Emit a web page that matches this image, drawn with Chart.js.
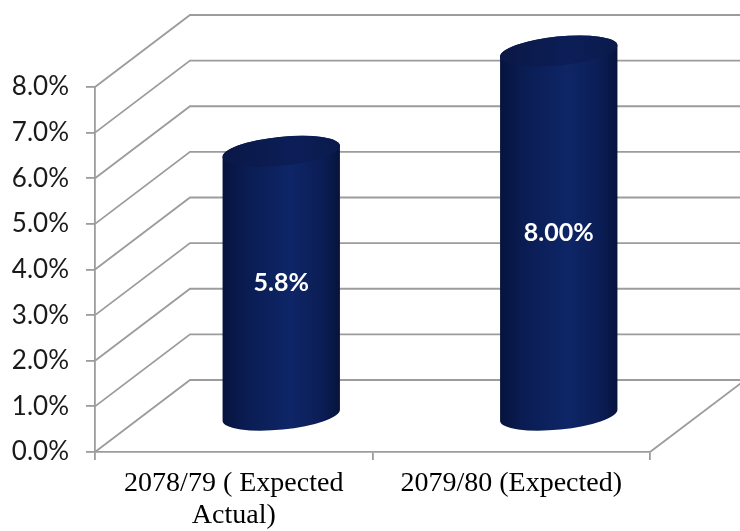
<!DOCTYPE html>
<html>
<head>
<meta charset="utf-8">
<script src="https://cdn.jsdelivr.net/npm/chart.js@4.4.1/dist/chart.umd.min.js"></script>
<style>
  html, body { margin: 0; padding: 0; background: #fff; }
  #wrap { width: 740px; height: 531px; }
</style>
</head>
<body>
<div id="wrap"><canvas id="growthChart" width="740" height="531"></canvas></div>
<script>
// Growth rates per fiscal year
const categories = [['2078/79 ( Expected', 'Actual)'], '2079/80 (Expected)'];
const growthRates = [5.8, 8.00];
const labelDecimals = [1, 2];
const yTicks = { min: 0, max: 8, step: 1 };

// depth of the 3D box (back wall offset from the front axis)
const DEPTH_X = 95;
const DEPTH_Y = -72;
const GRID_COLOR = '#9c9c9c';

// back wall + side diagonals, drawn under the cylinders
const box3d = {
    id: 'box3d',
    beforeDatasetsDraw(chart) {
        const { ctx, chartArea, scales } = chart;
        const y = scales.y;
        ctx.save();
        ctx.strokeStyle = GRID_COLOR;
        ctx.lineWidth = 1.8;
        y.ticks.forEach(t => {
            const py = y.getPixelForValue(t.value);
            ctx.beginPath();
            ctx.moveTo(chartArea.left, py);
            ctx.lineTo(chartArea.left + DEPTH_X, py + DEPTH_Y);
            ctx.lineTo(chart.width + 10, py + DEPTH_Y);
            ctx.stroke();
        });
        // right edge of the floor
        const py0 = y.getPixelForValue(0);
        ctx.beginPath();
        ctx.moveTo(chartArea.right, py0);
        ctx.lineTo(chartArea.right + DEPTH_X, py0 + DEPTH_Y);
        ctx.stroke();
        ctx.restore();
    }
};

function drawCylinder(ctx, cx, yTop, yBot, rx, ry, rot) {
    const ex = rx * Math.cos(rot), ey = rx * Math.sin(rot);

    const body = ctx.createLinearGradient(cx - rx, 0, cx + rx, 0);
    body.addColorStop(0, '#06133d');
    body.addColorStop(0.2, '#0a1c52');
    body.addColorStop(0.58, '#0e2667');
    body.addColorStop(0.85, '#0b1d55');
    body.addColorStop(1, '#06133b');

    ctx.beginPath();
    ctx.moveTo(cx - ex, yTop - ey);
    ctx.lineTo(cx - ex, yBot - ey);
    ctx.ellipse(cx, yBot, rx, ry, rot, Math.PI, 0, true);
    ctx.lineTo(cx + ex, yTop + ey);
    ctx.ellipse(cx, yTop, rx, ry, rot, 0, Math.PI, true);
    ctx.closePath();
    ctx.fillStyle = body;
    ctx.fill();

    const top = ctx.createLinearGradient(cx - rx, 0, cx + rx, 0);
    top.addColorStop(0, '#0a1846');
    top.addColorStop(0.6, '#0c1e57');
    top.addColorStop(1, '#0a1a4c');
    ctx.beginPath();
    ctx.ellipse(cx, yTop, rx, ry, rot, 0, Math.PI * 2);
    ctx.fillStyle = top;
    ctx.fill();
}

// cylinders sit half way into the box depth
const cylinders = {
    id: 'cylinders',
    afterDatasetsDraw(chart) {
        const { ctx } = chart;
        const meta = chart.getDatasetMeta(0);
        ctx.save();
        meta.data.forEach((bar, i) => {
            const cx = bar.x + DEPTH_X / 2;
            const yTop = bar.y + DEPTH_Y / 2;
            const yBot = bar.base + DEPTH_Y / 2;
            drawCylinder(ctx, cx, yTop, yBot, bar.width / 2, 14.5, -0.1);

            const txt = growthRates[i].toFixed(labelDecimals[i]) + '%';
            ctx.font = 'bold 25px Lato';
            ctx.fillStyle = '#ffffff';
            ctx.textAlign = 'center';
            ctx.textBaseline = 'middle';
            ctx.fillText(txt, cx, (yTop + yBot) / 2);
        });
        ctx.restore();
    }
};

new Chart(document.getElementById('growthChart'), {
    type: 'bar',
    data: {
        labels: categories,
        datasets: [{
            data: growthRates,
            backgroundColor: 'rgba(0,0,0,0)',
            categoryPercentage: 1,
            barPercentage: 0.425
        }]
    },
    options: {
        responsive: false,
        animation: false,
        layout: { padding: { top: 87, right: 90, left: 0, bottom: 0 } },
        plugins: {
            legend: { display: false },
            tooltip: { enabled: false }
        },
        scales: {
            x: {
                afterFit(scale) { scale.height = 79; },
                grid: {
                    offset: true,
                    drawOnChartArea: false,
                    color: GRID_COLOR,
                    lineWidth: 1.8,
                    tickLength: 8
                },
                border: { color: GRID_COLOR, width: 1.8 },
                ticks: {
                    color: '#000',
                    padding: 8,
                    maxRotation: 0,
                    font: { family: 'Liberation Serif', size: 28, lineHeight: 1.14 }
                }
            },
            y: {
                min: yTicks.min,
                max: yTicks.max,
                afterFit(scale) { scale.width = 95; },
                grid: {
                    drawOnChartArea: false,
                    color: GRID_COLOR,
                    lineWidth: 1.8,
                    tickLength: 9
                },
                border: { color: GRID_COLOR, width: 1.8 },
                ticks: {
                    stepSize: yTicks.step,
                    color: '#1a1a1a',
                    padding: 17,
                    font: { family: 'Lato', size: 26 },
                    callback: v => v.toFixed(1) + '%'
                }
            }
        }
    },
    plugins: [box3d, cylinders]
});
</script>
</body>
</html>
